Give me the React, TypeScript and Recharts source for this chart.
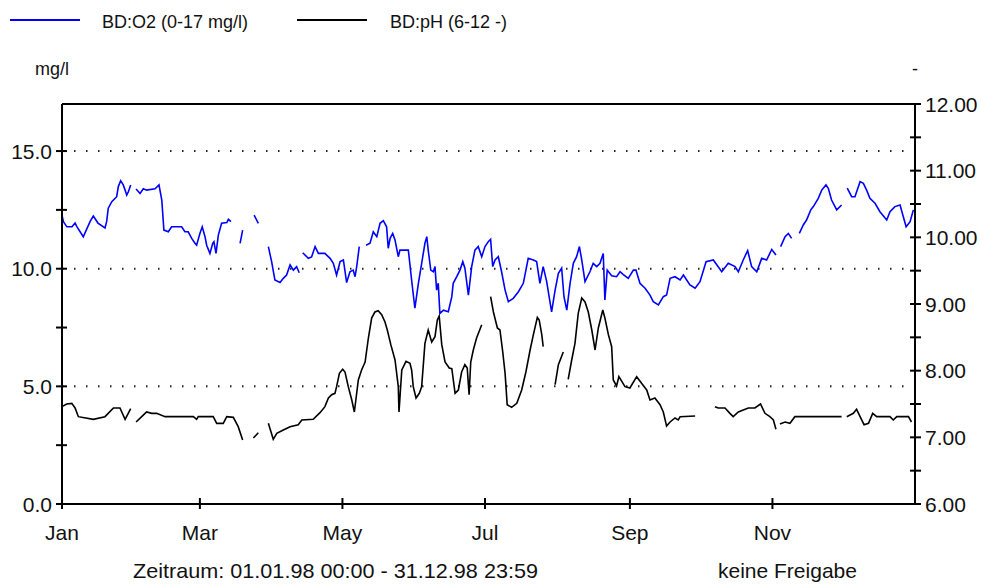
import React from "react";
import { ComposedChart, Line, XAxis, YAxis, ReferenceLine } from "recharts";

// Ganglinie 1998: Sauerstoff (linke Achse) und pH (rechte Achse)
// x = Tag im Jahr, null = Messlücke

const monthTicks = [0, 59, 120, 181, 243, 304];
const monthLabels = ["Jan", "Mar", "May", "Jul", "Sep", "Nov"];
const o2Ticks = [0, 2.5, 5, 7.5, 10, 12.5, 15];
const phTicks = [6, 6.5, 7, 7.5, 8, 8.5, 9, 9.5, 10, 10.5, 11, 11.5, 12];
const gridLevels = [5, 10, 15];

const o2Series: [number, number | null][] = [
  [0, 12.28], [0.6, 12.0], [2.1, 11.78], [4.3, 11.78], [5.6, 11.94], [6.3, 11.8], [9.1, 11.36],
  [12.0, 12.0], [13.4, 12.24], [15.4, 11.94], [18.4, 11.73], [19.1, 12.0], [19.8, 12.57],
  [21.3, 12.85], [23.4, 13.06], [24.1, 13.49], [25.1, 13.74], [26.2, 13.56], [27.0, 13.34],
  [27.7, 13.13], [28.4, 13.27], [29.4, 13.56], [30.5, null], [31.7, 13.39], [33.4, 13.2],
  [34.8, 13.4], [36.2, 13.34], [39.8, 13.4], [41.5, 13.56], [42.7, 12.92], [43.6, 11.64],
  [45.5, 11.57], [46.9, 11.78], [51.2, 11.78], [52.6, 11.57], [54.0, 11.57], [55.5, 11.29],
  [56.9, 11.08], [57.6, 11.0], [59.0, 11.5], [60.0, 11.78], [61.2, 11.36], [61.9, 11.0],
  [63.3, 10.65], [64.5, 11.08], [65.0, 11.15], [65.9, 10.65], [66.9, 11.43], [68.3, 11.93],
  [70.5, 11.96], [71.2, 12.1], [72.3, 12.0], [74, null], [76.2, 11.08], [77.3, 11.64],
  [79, null], [82.2, 12.28], [84.0, 11.93], [86, null], [88.3, 10.94], [89.7, 10.3],
  [91.1, 9.52], [93.3, 9.41], [94.7, 9.59], [96.1, 9.73], [97.6, 10.16], [99.0, 9.94],
  [100.4, 10.09], [101.5, 9.83], [102.3, null], [103.0, 10.68], [105.4, 10.44], [106.8, 10.5],
  [108.3, 10.94], [109.7, 10.65], [112.5, 10.65], [114.7, 10.44], [116.1, 10.23], [117.5, 9.73],
  [119.0, 10.3], [120.4, 10.37], [121.8, 9.41], [123.2, 9.87], [124.6, 9.94], [125.4, 9.66],
  [126.1, 10.09], [127.2, 10.94], [128.6, null], [130.1, 11.0], [131.8, 11.08], [133.2, 11.57],
  [134.7, 11.36], [136.1, 11.93], [137.5, 12.04], [138.9, 11.78], [139.6, 10.87], [140.4, 11.29],
  [141.5, 11.5], [142.5, 11.22], [143.9, 10.51], [144.6, 10.79], [148.2, 10.79], [149.6, 9.52],
  [151.0, 8.32], [152.5, 9.38], [153.9, 10.23], [155.3, 11.08], [156.1, 11.36], [156.7, 10.79],
  [157.8, 9.94], [158.9, 9.87], [159.6, 10.09], [160.3, 9.09], [161.0, 9.38], [161.7, 8.1],
  [163.2, 8.24], [165.3, 8.17], [166.8, 8.81], [167.4, 9.38], [168.9, 9.66], [170.3, 9.94],
  [171.5, 10.3], [172.4, 10.02], [173.9, 8.88], [175.3, 10.09], [176.7, 10.79], [178.1, 10.94],
  [179.6, 10.51], [181.0, 10.94], [182.4, 11.15], [183.4, 11.25], [184.3, 10.09], [185.3, 10.37],
  [186.7, 10.51], [188.1, 9.87], [189.6, 9.09], [191.0, 8.6], [193.1, 8.74], [195.3, 9.02],
  [197.4, 9.38], [199.5, 10.44], [201.7, 10.37], [203.1, 10.3], [204.5, 9.38], [205.9, 10.09],
  [207.4, 9.45], [209.5, 8.17], [211.0, 9.09], [212.4, 9.8], [213.8, 10.02], [214.8, 8.81],
  [216.0, 8.24], [217.4, 9.38], [218.8, 10.23], [220.2, 10.51], [221.4, 10.94], [222.4, 10.37],
  [223.8, 9.45], [225.9, 9.87], [227.3, 10.23], [228.8, 10.09], [230.2, 10.23], [231.6, 10.65],
  [232.3, 8.67], [233.3, 9.94], [235.2, 9.7], [237.3, 9.66], [238.8, 9.87], [240.2, 9.75],
  [242.3, 9.59], [244.5, 9.94], [245.6, 9.94], [247.3, 9.38], [249.5, 9.17], [251.6, 8.88],
  [253.0, 8.6], [255.2, 8.46], [257.3, 8.81], [258.7, 8.88], [260.2, 9.59], [262.3, 9.66],
  [264.5, 9.52], [265.9, 9.73], [268.7, 9.31], [270.9, 9.17], [273.0, 9.45], [275.6, 10.3],
  [278.7, 10.37], [282.3, 9.87], [285.1, 10.23], [288.0, 10.09], [289.4, 9.87], [291.5, 10.37],
  [293.4, 10.77], [295.1, 10.09], [297.3, 9.87], [299.4, 10.44], [301.5, 10.37], [303.7, 10.82],
  [305.5, 10.58], [306.5, null], [307.5, 10.94], [309.4, 11.36], [310.8, 11.5], [312.2, 11.29],
  [313.8, null], [315.5, 11.5], [317.2, 11.86], [318.6, 12.07], [320.4, 12.5], [321.5, 12.64],
  [323.6, 12.99], [325.1, 13.34], [326.9, 13.56], [327.9, 13.42], [329.3, 12.92], [331.5, 12.5],
  [333.6, 12.71], [334.8, null], [336.0, 13.42], [337.9, 13.06], [339.3, 13.06], [341.5, 13.7],
  [342.9, 13.63], [344.3, 13.34], [345.7, 12.99], [347.9, 12.78], [350.0, 12.42], [352.9, 12.07],
  [354.3, 12.42], [356.4, 12.64], [358.6, 12.71], [360.0, 12.21], [361.2, 11.78], [362.9, 12.0],
  [364.3, 12.5],
];

const phSeries: [number, number | null][] = [
  [0, 7.46], [2.0, 7.5], [4.2, 7.51], [5.6, 7.44], [7.0, 7.31], [13.4, 7.27], [18.4, 7.31],
  [22.0, 7.44], [24.8, 7.44], [27.0, 7.27], [29.4, 7.43], [30.5, null], [31.7, 7.23],
  [34.1, 7.31], [36.2, 7.38], [38.4, 7.36], [40.5, 7.36], [44.1, 7.31], [56.2, 7.31],
  [57.6, 7.27], [58.3, 7.31], [64.7, 7.31], [66.2, 7.21], [69.0, 7.21], [70.5, 7.31],
  [73.3, 7.3], [75.4, 7.16], [77.3, 6.96], [79, null], [81.9, 6.99], [84.0, 7.07], [86, null],
  [88.3, 7.21], [90.4, 6.97], [91.9, 7.06], [94.7, 7.11], [97.6, 7.16], [101.1, 7.19],
  [102.6, 7.26], [107.5, 7.27], [110.4, 7.37], [112.5, 7.46], [114.0, 7.59], [115.4, 7.64],
  [116.8, 7.66], [117.5, 7.76], [118.7, 7.96], [120.1, 8.02], [121.1, 7.98], [122.5, 7.76],
  [124.0, 7.56], [125.1, 7.38], [126.8, 7.86], [128.2, 8.01], [129.7, 8.13], [131.1, 8.49],
  [132.5, 8.79], [133.9, 8.88], [135.3, 8.9], [136.8, 8.84], [138.2, 8.73], [139.2, 8.61],
  [140.7, 8.39], [142.5, 8.16], [143.9, 7.76], [144.2, 7.38], [145.4, 8.01], [147.2, 8.14],
  [148.9, 8.11], [149.6, 8.01], [150.3, 7.76], [151.5, 7.59], [152.9, 7.66], [153.9, 7.76],
  [155.3, 8.41], [156.7, 8.61], [158.2, 8.43], [159.6, 8.51], [160.6, 8.76], [161.4, 8.82],
  [162.5, 8.39], [163.9, 8.13], [165.7, 8.04], [166.8, 8.03], [168.2, 7.66], [169.6, 7.71],
  [171.0, 7.98], [172.4, 8.09], [173.4, 8.04], [174.2, 7.64], [174.9, 8.13], [176.0, 8.31],
  [177.4, 8.49], [179.6, 8.69], [181.5, null], [183.4, 9.11], [184.6, 8.88], [186.3, 8.64],
  [187.4, 8.61], [188.6, 8.28], [189.6, 7.96], [190.5, 7.49], [192.4, 7.45], [194.6, 7.51],
  [196.7, 7.71], [198.5, 7.98], [200.3, 8.31], [201.7, 8.54], [203.4, 8.8], [204.2, 8.76],
  [205.3, 8.54], [205.9, 8.36], [208, null], [211.0, 7.79], [212.4, 8.09], [214.5, 8.28],
  [215.5, null], [216.6, 7.87], [218.1, 8.16], [219.5, 8.41], [220.9, 8.86], [222.4, 9.09],
  [223.8, 9.03], [225.2, 8.88], [226.7, 8.61], [228.1, 8.31], [229.5, 8.64], [231.4, 8.91],
  [232.3, 8.79], [233.8, 8.54], [235.2, 8.36], [235.9, 7.86], [237.3, 7.77], [238.3, 7.91],
  [240.9, 7.76], [243.0, 7.74], [245.9, 7.91], [248.0, 7.81], [250.2, 7.71], [251.6, 7.56],
  [253.7, 7.59], [255.9, 7.49], [257.3, 7.38], [258.7, 7.17], [260.2, 7.23], [262.3, 7.29],
  [263.7, 7.26], [264.5, 7.31], [270.9, 7.32], [275, null], [279.4, 7.46], [280.8, 7.44],
  [283.7, 7.44], [285.8, 7.36], [287.2, 7.31], [289.4, 7.38], [291.5, 7.41], [293.7, 7.44],
  [296.5, 7.44], [298.9, 7.5], [300.8, 7.36], [302.9, 7.31], [304.4, 7.26], [305.5, 7.12],
  [306.3, null], [307.2, 7.2], [309.4, 7.23], [311.5, 7.21], [313.6, 7.31], [333.6, 7.31],
  [334.7, null], [335.8, 7.31], [338.6, 7.36], [340.0, 7.42], [341.5, 7.31], [343.2, 7.19],
  [345.1, 7.21], [346.9, 7.36], [348.6, 7.31], [354.3, 7.31], [355.7, 7.26], [357.2, 7.31],
  [362.2, 7.31], [363.5, 7.23],
];

const o2Data = o2Series.map(([day, v]) => ({ day, o2: v }));
const phData = phSeries.map(([day, v]) => ({ day, ph: v }));

const FONT = "'Liberation Sans', Arial, sans-serif";
const INK = "#111";

const XTick = (props: any) => {
  const { x, y, payload } = props;
  const label = monthLabels[monthTicks.indexOf(payload.value)];
  return (
    <g>
      <line x1={x} x2={x} y1={y - 6} y2={y + 5} stroke="#000" strokeWidth={2} />
      <text x={x} y={y + 36} textAnchor="middle" fontSize={21} fontFamily={FONT} fill={INK}>
        {label}
      </text>
    </g>
  );
};

const O2Tick = (props: any) => {
  const { x, y, payload } = props;
  const v = payload.value;
  return (
    <g>
      <line x1={x - 6} x2={x + 5} y1={y} y2={y} stroke="#000" strokeWidth={2} />
      {v % 5 === 0 && (
        <text x={x - 10} y={y + 7.5} textAnchor="end" fontSize={21} fontFamily={FONT} fill={INK}>
          {v.toFixed(1)}
        </text>
      )}
    </g>
  );
};

const PhTick = (props: any) => {
  const { x, y, payload } = props;
  const v = payload.value;
  return (
    <g>
      <line x1={x - 5} x2={x + 6} y1={y} y2={y} stroke="#000" strokeWidth={2} />
      {Number.isInteger(v) && (
        <text x={x + 10} y={y + 7.5} textAnchor="start" fontSize={21} fontFamily={FONT} fill={INK}>
          {v.toFixed(2)}
        </text>
      )}
    </g>
  );
};

export default function App() {
  return (
    <div style={{ position: "absolute", left: 0, top: 0, width: 981, height: 585, background: "#fff" }}>
      <ComposedChart
        width={981}
        height={585}
        margin={{ top: 104, right: 2, bottom: 41, left: 2 }}
      >
        <XAxis
          dataKey="day"
          type="number"
          domain={[0, 365]}
          ticks={monthTicks}
          interval={0}
          height={40}
          tickSize={0}
          tickMargin={0}
          tick={<XTick />}
          axisLine={{ stroke: "#000", strokeWidth: 2 }}
          tickLine={false}
          allowDataOverflow
        />
        <YAxis
          yAxisId="o2"
          orientation="left"
          width={60}
          domain={[0, 17]}
          ticks={o2Ticks}
          interval={0}
          tickSize={0}
          tickMargin={0}
          tick={<O2Tick />}
          axisLine={{ stroke: "#000", strokeWidth: 2 }}
          tickLine={false}
          allowDataOverflow
        />
        <YAxis
          yAxisId="ph"
          orientation="right"
          width={64}
          domain={[6, 12]}
          ticks={phTicks}
          interval={0}
          tickSize={0}
          tickMargin={0}
          tick={<PhTick />}
          axisLine={{ stroke: "#000", strokeWidth: 2 }}
          tickLine={false}
          allowDataOverflow
        />
        {gridLevels.map((g) => (
          <ReferenceLine
            key={g}
            yAxisId="o2"
            y={g}
            stroke="#222"
            strokeWidth={2}
            strokeDasharray="1.5 10.5"
          />
        ))}
        <ReferenceLine yAxisId="o2" y={17} stroke="#000" strokeWidth={2} />
        <Line
          data={phData}
          dataKey="ph"
          yAxisId="ph"
          type="linear"
          stroke="#000"
          strokeWidth={1.6}
          dot={false}
          activeDot={false}
          connectNulls={false}
          isAnimationActive={false}
        />
        <Line
          data={o2Data}
          dataKey="o2"
          yAxisId="o2"
          type="linear"
          stroke="#0000ff"
          strokeWidth={1.6}
          dot={false}
          activeDot={false}
          connectNulls={false}
          isAnimationActive={false}
        />
      </ComposedChart>
      <svg
        width={981}
        height={585}
        style={{ position: "absolute", left: 0, top: 0, pointerEvents: "none" }}
        fontFamily={FONT}
        fill={INK}
      >
        <line x1={10} x2={80} y1={20} y2={20} stroke="#0000ff" strokeWidth={2} />
        <text x={102} y={28} fontSize={18}>BD:O2 (0-17 mg/l)</text>
        <line x1={297} x2={367} y1={20} y2={20} stroke="#000" strokeWidth={2} />
        <text x={390} y={28} fontSize={18}>BD:pH (6-12 -)</text>
        <text x={35} y={75} fontSize={18}>mg/l</text>
        <text x={912} y={75} fontSize={18}>-</text>
        <text x={133} y={578} fontSize={21} textLength={405} lengthAdjust="spacingAndGlyphs">
          Zeitraum: 01.01.98 00:00 - 31.12.98 23:59
        </text>
        <text x={718} y={578} fontSize={21}>keine Freigabe</text>
      </svg>
    </div>
  );
}
